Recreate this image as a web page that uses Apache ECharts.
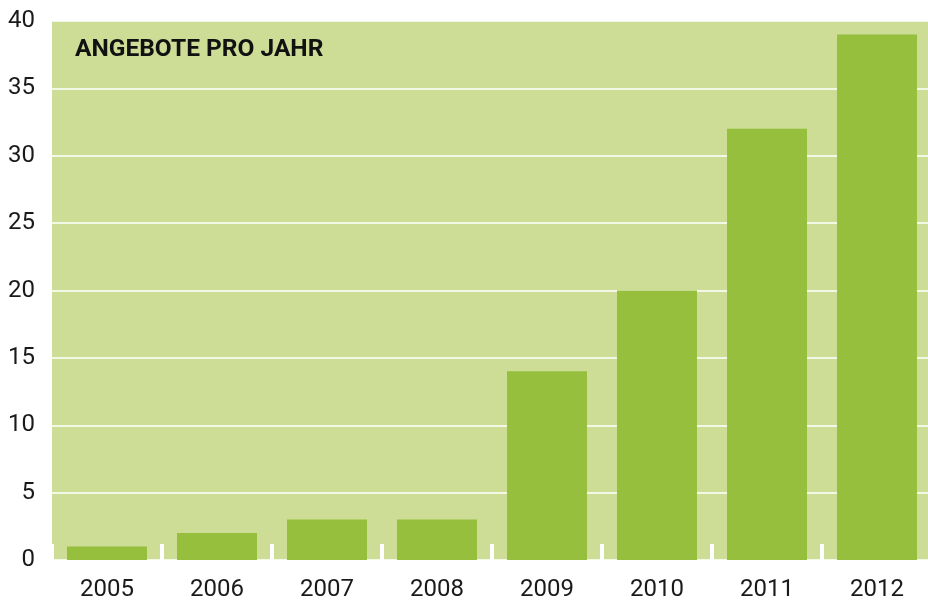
<!DOCTYPE html>
<html>
<head>
<meta charset="utf-8">
<script src="https://cdn.jsdelivr.net/npm/echarts@6/dist/echarts.min.js"></script>
<style>html,body{margin:0;padding:0;background:#fff}#c{width:928px;height:600px}</style>
</head>
<body>
<div id="c"></div>
<script>
var categories = ['2005','2006','2007','2008','2009','2010','2011','2012'];
var values = [1, 2, 3, 3, 14, 20, 32, 39];
var title = 'ANGEBOTE PRO JAHR';

var chart = echarts.init(document.getElementById('c'), null, {renderer: 'canvas'});
chart.setOption({
  animation: false,
  title: {
    text: title,
    left: 75, top: 37, padding: 0,
    textStyle: {fontFamily: 'Roboto', fontSize: 24.5, fontWeight: 'bold', color: '#111'}
  },
  grid: {
    left: 52, top: 21, width: 880, bottom: 40,
    outerBoundsMode: 'none', containLabel: false,
    show: true, backgroundColor: '#cddd96', borderWidth: 0
  },
  xAxis: {
    type: 'category',
    data: categories,
    axisLine: {show: false},
    axisTick: {show: true, inside: true, length: 16, lineStyle: {color: '#ffffff', width: 4}},
    axisLabel: {fontFamily: 'Roboto', fontSize: 24, color: '#1a1a1a', margin: 18}
  },
  yAxis: {
    type: 'value',
    min: 0, max: 40, interval: 5,
    axisLine: {show: false},
    axisTick: {show: false},
    splitLine: {lineStyle: {color: '#ffffff', width: 1.5}},
    axisLabel: {fontFamily: 'Roboto', fontSize: 24, color: '#1a1a1a', margin: 17}
  },
  series: [{
    type: 'bar',
    data: values,
    barWidth: 80,
    itemStyle: {color: '#95bf3c'}
  }]
});
</script>
</body>
</html>
